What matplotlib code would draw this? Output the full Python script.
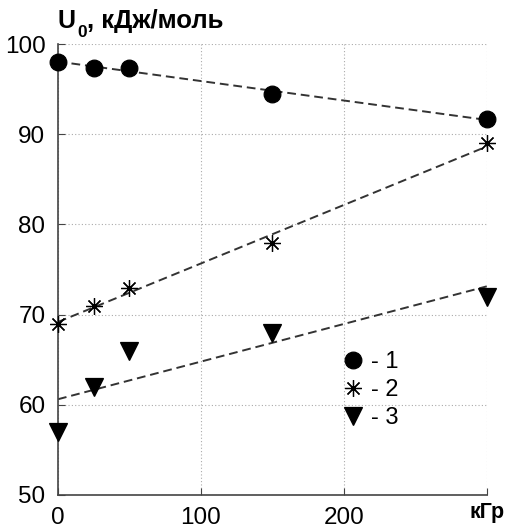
import numpy as np
import matplotlib
matplotlib.use("Agg")
import matplotlib.pyplot as plt
from matplotlib.transforms import offset_copy

plt.rcParams['font.family'] = ['Liberation Sans', 'DejaVu Sans']

dose = [0, 25, 50, 150, 300]
series1 = [98.0, 97.4, 97.4, 94.5, 91.7]
series2 = [69.0, 71.0, 73.0, 78.0, 89.0]
series3 = [57.0, 62.0, 66.0, 68.0, 72.0]
labels = ['- 1', '- 2', '- 3']
xtick_vals = [0, 100, 200, 300]
xtick_labels = ['0', '100', '200', 'кГр']
ytick_vals = [50, 60, 70, 80, 90, 100]

fig = plt.figure(figsize=(5.06, 5.32), dpi=100)
ax = fig.add_axes([0.1146, 0.0696, 0.962 - 0.1146, 0.917 - 0.0696])

markers = ['o', (8, 2, 0), 'v']
sizes = [12, 12, 13]
xs = np.array(dose, dtype=float)
for ys, m, s, lab in zip([series1, series2, series3], markers, sizes, labels):
    ys = np.array(ys)
    k, b = np.polyfit(xs, ys, 1)
    xl = np.array([xs.min(), xs.max()])
    ax.plot(xl, k * xl + b, ls=(0, (4.5, 2.5)), color='#333333', lw=1.4, zorder=2)
    ax.plot(xs, ys, ls='none', marker=m, ms=s, color='black', mec='black',
            mew=0.9, label=lab, zorder=3, clip_on=False)

ax.set_xlim(0, 300)
ax.set_ylim(50, 100)
ax.set_xticks(xtick_vals)
ax.set_xticklabels(xtick_labels)
ax.set_yticks(ytick_vals)
ax.tick_params(direction='in', length=5, labelsize=17.5, color='#444444')
ax.tick_params(axis='y', pad=9)
ax.tick_params(axis='x', pad=9)
for t in ax.get_xticklabels():
    if t.get_text() == 'кГр':
        t.set_fontweight('bold')
        t.set_fontsize(15.5)
        t.set_y(0.012)
for sp in ['top', 'right']:
    ax.spines[sp].set_visible(False)
for sp in ['left', 'bottom']:
    ax.spines[sp].set_color('#444444')
    ax.spines[sp].set_linewidth(1.2)
ax.grid(True, ls=(0, (1, 2)), color='#aaaaaa', lw=0.8)
ax.set_axisbelow(True)

# Title with subscript, placed piece by piece
fig.canvas.draw()
r = fig.canvas.get_renderer()
t1 = fig.text(58 / 506, 1 - 28 / 532, 'U', fontsize=18, fontweight='bold',
              ha='left', va='baseline')
w1 = t1.get_window_extent(r).width
t2 = fig.text(58 / 506, 1 - 37 / 532, '0', fontsize=12.5, fontweight='bold',
              ha='left', va='baseline',
              transform=offset_copy(fig.transFigure, fig=fig, x=w1 * 72 / 100 + 1, y=0, units='points'))
w2 = t2.get_window_extent(r).width
fig.text(58 / 506, 1 - 28 / 532, ', кДж/моль', fontsize=18.5, fontweight='bold',
         ha='left', va='baseline',
         transform=offset_copy(fig.transFigure, fig=fig, x=(w1 + w2) * 72 / 100 + 1, y=0, units='points'))

leg = ax.legend(loc='upper left', bbox_to_anchor=(0.625, 0.345), frameon=False,
                fontsize=17, handletextpad=0.1, labelspacing=0.25,
                borderpad=0, handlelength=1.3)

fig.savefig('out.png', dpi=100)
